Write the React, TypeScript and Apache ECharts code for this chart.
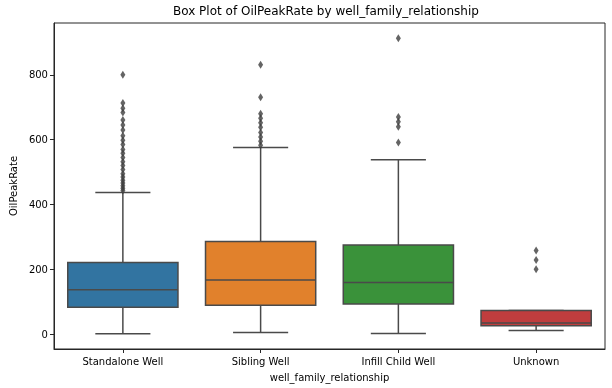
import React, { useEffect, useRef } from "react";
import * as echarts from "echarts";

const categories = ["Standalone Well", "Sibling Well", "Infill Child Well", "Unknown"];
const whiskerLow = [1, 5, 2, 11];
const q1 = [83, 89, 93, 26];
const median = [137, 167, 159, 34];
const q3 = [221, 286, 275, 73];
const whiskerHigh = [437, 576, 538, 73];

const standaloneOutliers = [800, 713, 697, 684, 661, 645, 630, 612, 598, 585, 570, 558, 545, 532, 520, 508, 495, 485, 475, 466, 458, 450, 443];
const siblingOutliers = [831, 731, 680, 666, 652, 638, 622, 608, 595, 583];
const infillOutliers = [913, 670, 655, 640, 591];
const unknownOutliers = [258, 229, 200];

const boxColors = ["#3274a1", "#e1812c", "#3a923a", "#c03d3e"];
const yTicks = [0, 200, 400, 600, 800];

export default function App() {
  const ref = useRef<HTMLDivElement>(null);
  useEffect(() => {
    if (!ref.current) return;
    const chart = echarts.init(ref.current, null, { renderer: "svg" });
    const boxData = categories.map((_, i) => [i, whiskerLow[i], q1[i], median[i], q3[i], whiskerHigh[i]]);
    const outlierGroups = [standaloneOutliers, siblingOutliers, infillOutliers, unknownOutliers];
    const outlierData: number[][] = [];
    outlierGroups.forEach((g, i) => g.forEach((v) => outlierData.push([i, v])));
    const lineColor = "#4a4a4a";
    const font = "DejaVu Sans";
    chart.setOption({
      animation: false,
      title: {
        text: "Box Plot of OilPeakRate by well_family_relationship",
        left: 168,
        top: 0,
        textStyle: { fontFamily: font, fontSize: 12, fontWeight: "normal", color: "#000" },
      },
      grid: {
        left: 47,
        right: 7,
        top: 23,
        bottom: 39,
        show: true,
        borderColor: "#262626",
        borderWidth: 1,
        containLabel: false,
      },
      xAxis: {
        type: "category",
        data: categories,
        boundaryGap: true,
        name: "well_family_relationship",
        nameLocation: "middle",
        nameGap: 23,
        nameTextStyle: { fontFamily: font, fontSize: 10, color: "#000" },
        axisLine: { show: true, onZero: false, lineStyle: { color: "#262626", width: 1 } },
        axisTick: { show: true, alignWithLabel: true, length: 4, lineStyle: { color: "#262626" } },
        axisLabel: { fontFamily: font, fontSize: 10, color: "#000", margin: 7 },
        splitLine: { show: false },
      },
      yAxis: {
        type: "value",
        min: -46,
        max: 960,
        name: "OilPeakRate",
        nameLocation: "middle",
        nameGap: 30,
        nameTextStyle: { fontFamily: font, fontSize: 10, color: "#000" },
        axisLine: { show: true, onZero: false, lineStyle: { color: "#262626", width: 1 } },
        axisTick: { show: true, length: 4, customValues: yTicks, lineStyle: { color: "#262626" } },
        axisLabel: { fontFamily: font, fontSize: 10, color: "#000", margin: 6, customValues: yTicks },
        splitLine: { show: false },
      },
      series: [
        {
          type: "custom",
          data: boxData,
          encode: { x: 0, y: [1, 2, 3, 4, 5] },
          clip: false,
          renderItem: (params: any, api: any) => {
            const i = api.value(0);
            const pLo = api.coord([i, api.value(1)]);
            const pQ1 = api.coord([i, api.value(2)]);
            const pMed = api.coord([i, api.value(3)]);
            const pQ3 = api.coord([i, api.value(4)]);
            const pHi = api.coord([i, api.value(5)]);
            const band = api.size([1, 0])[0];
            const bw = band * 0.8;
            const cw = bw / 2;
            const x = pLo[0];
            const ls = { stroke: lineColor, lineWidth: 1.5 };
            return {
              type: "group",
              children: [
                { type: "line", shape: { x1: x, y1: pQ1[1], x2: x, y2: pLo[1] }, style: ls },
                { type: "line", shape: { x1: x, y1: pQ3[1], x2: x, y2: pHi[1] }, style: ls },
                { type: "line", shape: { x1: x - cw / 2, y1: pLo[1], x2: x + cw / 2, y2: pLo[1] }, style: ls },
                { type: "line", shape: { x1: x - cw / 2, y1: pHi[1], x2: x + cw / 2, y2: pHi[1] }, style: ls },
                {
                  type: "rect",
                  shape: { x: x - bw / 2, y: pQ3[1], width: bw, height: pQ1[1] - pQ3[1] },
                  style: { fill: boxColors[i], stroke: lineColor, lineWidth: 1.5 },
                },
                { type: "line", shape: { x1: x - bw / 2, y1: pMed[1], x2: x + bw / 2, y2: pMed[1] }, style: ls },
              ],
            };
          },
          z: 2,
        },
        {
          type: "scatter",
          data: outlierData,
          symbol: "diamond",
          symbolSize: [5, 8],
          itemStyle: { color: "#3d3d3d" },
          z: 3,
        },
      ],
    });
    return () => chart.dispose();
  }, []);
  return <div ref={ref} style={{ position: "fixed", left: 0, top: 0, width: 612, height: 388 }} />;
}
